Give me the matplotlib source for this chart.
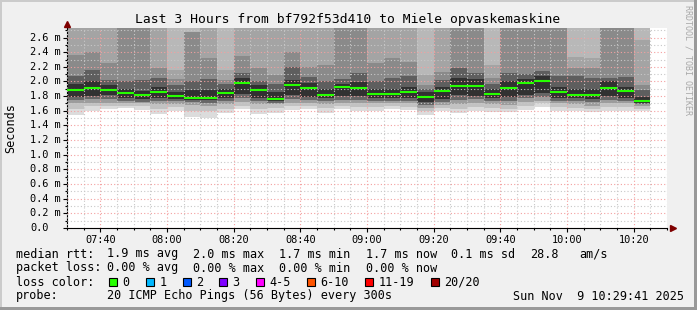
import matplotlib
matplotlib.use("Agg")
import matplotlib.pyplot as plt
from matplotlib.patches import Rectangle
import matplotlib.transforms as mtransforms

W, H = 697, 310
MONO = "DejaVu Sans Mono"

title = "Last 3 Hours from bf792f53d410 to Miele opvaskemaskine"

# time axis in minutes since midnight
t_start = 7 * 60 + 30
t_end = 10 * 60 + 30
step = 5

# median rtt per 5 minute step (ms), 07:30 .. 10:20
median = [1.888, 1.915, 1.884, 1.843, 1.812, 1.861, 1.802, 1.779, 1.779,
          1.843, 1.980, 1.888, 1.762, 1.952, 1.915, 1.816, 1.925, 1.915,
          1.830, 1.830, 1.861, 1.793, 1.870, 1.939, 1.939, 1.830, 1.915,
          1.984, 2.011, 1.861, 1.816, 1.816, 1.915, 1.875, 1.739]

# smoke, upper edges per bar (outer -> inner), 3.0 = off the top
smoke_hi = [
    (3, 3, 2.36, 2.08, 1.96), (3, 3, 2.40, 2.16, 2.00), (3, 3, 2.25, 2.02, 1.95),
    (3, 3, 3, 2.01, 1.90), (3, 3, 3, 2.02, 1.87), (3, 3, 2.18, 2.05, 1.93),
    (3, 2.16, 2.04, 1.95, 1.86), (3, 2.68, 2.68, 2.00, 1.88), (3, 3, 2.32, 2.03, 1.89),
    (3, 2.16, 2.02, 1.97, 1.90), (3, 3, 2.35, 2.11, 2.05), (3, 3, 2.18, 2.00, 1.95),
    (3, 3, 2.09, 1.97, 1.86), (3, 3, 2.40, 2.20, 2.02), (3, 3, 2.20, 2.06, 1.98),
    (3, 3, 2.22, 2.00, 1.90), (3, 3, 3, 2.04, 1.97), (3, 3, 3, 2.12, 1.99),
    (3, 3, 2.25, 2.00, 1.90), (3, 3, 2.32, 2.05, 1.90), (3, 3, 2.26, 2.07, 1.93),
    (3, 2.09, 1.95, 1.90, 1.86), (3, 3, 2.13, 2.02, 1.93), (3, 3, 3, 2.18, 2.05),
    (3, 3, 3, 2.12, 2.03), (3, 2.23, 2.05, 1.97, 1.90), (3, 3, 3, 2.12, 2.00),
    (3, 3, 3, 2.10, 2.04), (3, 3, 3, 2.14, 2.07), (3, 3, 3, 2.08, 1.93),
    (3, 2.34, 2.18, 2.07, 1.90), (3, 2.32, 2.18, 2.05, 1.90), (3, 3, 3, 2.05, 2.00),
    (3, 3, 3, 2.06, 1.93), (3, 2.56, 1.95, 1.88, 1.79),
]
# smoke, lower edges per bar (outer -> inner)
smoke_lo = [
    (1.54, 1.62, 1.70, 1.75, 1.79), (1.60, 1.66, 1.71, 1.76, 1.80), (1.62, 1.66, 1.71, 1.76, 1.81),
    (1.64, 1.67, 1.70, 1.73, 1.77), (1.61, 1.66, 1.70, 1.72, 1.76), (1.56, 1.62, 1.69, 1.73, 1.77),
    (1.60, 1.65, 1.69, 1.73, 1.76), (1.52, 1.60, 1.68, 1.72, 1.75), (1.50, 1.60, 1.67, 1.71, 1.75),
    (1.57, 1.63, 1.69, 1.73, 1.78), (1.62, 1.67, 1.72, 1.78, 1.83), (1.55, 1.62, 1.69, 1.74, 1.78),
    (1.57, 1.64, 1.69, 1.71, 1.73), (1.61, 1.67, 1.71, 1.76, 1.81), (1.63, 1.66, 1.71, 1.75, 1.79),
    (1.57, 1.64, 1.69, 1.73, 1.77), (1.62, 1.67, 1.71, 1.75, 1.80), (1.60, 1.65, 1.70, 1.75, 1.80),
    (1.60, 1.65, 1.70, 1.74, 1.77), (1.63, 1.66, 1.70, 1.74, 1.77), (1.61, 1.65, 1.70, 1.74, 1.78),
    (1.54, 1.60, 1.64, 1.68, 1.72), (1.60, 1.64, 1.68, 1.72, 1.76), (1.57, 1.63, 1.69, 1.75, 1.81),
    (1.60, 1.65, 1.70, 1.76, 1.80), (1.59, 1.64, 1.69, 1.73, 1.77), (1.58, 1.62, 1.68, 1.74, 1.79),
    (1.61, 1.66, 1.72, 1.77, 1.81), (1.645, 1.70, 1.74, 1.79, 1.84), (1.60, 1.65, 1.70, 1.74, 1.78),
    (1.60, 1.64, 1.69, 1.73, 1.77), (1.58, 1.62, 1.67, 1.72, 1.76), (1.60, 1.65, 1.70, 1.75, 1.80),
    (1.60, 1.65, 1.70, 1.74, 1.77), (1.60, 1.62, 1.66, 1.69, 1.71),
]
up_colors = ["#b8b8b8", "#a4a4a4", "#8a8a8a", "#5e5e5e", "#313131"]
lo_colors = ["#dcdcdc", "#c2c2c2", "#9c9c9c", "#666666", "#313131"]

x_ticks = list(range(t_start + 10, t_end, 20))
x_labels = ["%02d:%02d" % (t // 60, t % 60) for t in x_ticks]
y_ticks = [i / 10 for i in range(0, 27, 2)]
y_labels = ["0.0"] + ["%.1f m" % v for v in y_ticks[1:]]

loss_labels = ["0", "1", "2", "3", "4-5", "6-10", "11-19", "20/20"]
loss_colors = ["#26ff00", "#00b8ff", "#0059ff", "#7e00ff", "#ff00ff",
               "#ff5500", "#ff0000", "#a10000"]
loss_box_x = [109, 146, 183, 219, 256, 307, 365, 431]

rtt_parts = [(16, "median rtt:"), (107, "1.9 ms avg"), (193, "2.0 ms max"),
             (279, "1.7 ms min"), (366, "1.7 ms now"), (451, "0.1 ms sd"),
             (530, "28.8"), (579, "am/s")]
loss_parts = [(16, "packet loss:"), (107, "0.00 % avg"), (193, "0.00 % max"),
              (279, "0.00 % min"), (366, "0.00 % now")]
probe_text = "20 ICMP Echo Pings (56 Bytes) every 300s"
date_text = "Sun Nov  9 10:29:41 2025"

fig = plt.figure(figsize=(W / 100, H / 100), dpi=100, facecolor="#f0f0f0")
ax = fig.add_axes([67 / W, (H - 228) / H, 600 / W, 200 / H])
ax.set_facecolor("white")
ax.set_xlim(t_start, t_end)
ax.set_ylim(0, 2.73)

x_left = [t_start + i * step for i in range(len(median))]
for lvl in range(5):
    tops = [row[lvl] for row in smoke_hi]
    bots = [row[lvl] for row in smoke_lo]
    ax.bar(x_left, [t - m for t, m in zip(tops, median)], width=step, bottom=median,
           align="edge", color=up_colors[lvl], linewidth=0, antialiased=False, zorder=1)
    ax.bar(x_left, [m - b for m, b in zip(median, bots)], width=step, bottom=bots,
           align="edge", color=lo_colors[lvl], linewidth=0, antialiased=False, zorder=1)
ax.hlines(median, x_left, [x + step for x in x_left], colors=loss_colors[0],
          linewidth=1.5, zorder=4)

# grid
ax.set_xticks(x_ticks)
ax.set_xticks(range(t_start, t_end + 1, 5), minor=True)
ax.set_yticks(y_ticks)
ax.set_yticks([i / 10 for i in range(0, 28)], minor=True)
ax.set_axisbelow(False)
ax.grid(which="major", color="#f4a0a0", linestyle=(0, (1, 2)), linewidth=0.8, zorder=3)
ax.grid(which="minor", color="#c8c8c8", linestyle=(0, (1, 2)), linewidth=0.8, zorder=3)

ax.set_xticklabels(x_labels, fontfamily=MONO, fontsize=7.4)
ax.set_yticklabels([])
ax.tick_params(which="major", length=3, width=0.8, direction="out", pad=2)
ax.tick_params(which="minor", length=1.5, width=0.8, direction="out")
for sp in ["top", "right"]:
    ax.spines[sp].set_visible(False)
for sp in ["left", "bottom"]:
    ax.spines[sp].set_linewidth(0.8)
    ax.spines[sp].set_color("black")

ylab_tr = mtransforms.blended_transform_factory(fig.transFigure, ax.transData)
for v, s in zip(y_ticks, y_labels):
    ax.text(30 / W, v, s, transform=ylab_tr, ha="left", va="center",
            fontfamily=MONO, fontsize=7.4)

# arrows on the axes
ax.plot([0], [1.02], marker="^", color="#7f0000", markersize=4, clip_on=False,
        transform=ax.transAxes, zorder=5)
ax.plot([1.01], [0], marker=">", color="#7f0000", markersize=4, clip_on=False,
        transform=ax.transAxes, zorder=5)

fig.text(347.5 / W, 1 - 19.5 / H, title, ha="center", va="center",
         fontfamily=MONO, fontsize=9.4)
fig.text(11 / W, 1 - 128 / H, "Seconds", rotation=90, ha="center", va="center",
         fontfamily=MONO, fontsize=8.5)
fig.text(688 / W, 1 - 5 / H, "RRDTOOL / TOBI OETIKER", rotation=270, ha="center",
         va="top", fontfamily=MONO, fontsize=6, color="#a8a8a8")

for x, s in rtt_parts:
    fig.text(x / W, 1 - 254 / H, s, ha="left", va="center", fontfamily=MONO, fontsize=8.5)
for x, s in loss_parts:
    fig.text(x / W, 1 - 268 / H, s, ha="left", va="center", fontfamily=MONO, fontsize=8.5)
fig.text(16 / W, 1 - 282 / H, "loss color:", ha="left", va="center",
         fontfamily=MONO, fontsize=8.5)
for bx, lab, col in zip(loss_box_x, loss_labels, loss_colors):
    fig.add_artist(Rectangle((bx / W, 1 - 286 / H), 8 / W, 8 / H, transform=fig.transFigure,
                             facecolor=col, edgecolor="black", linewidth=0.8))
    fig.text((bx + 13.5) / W, 1 - 282 / H, lab, ha="left", va="center",
             fontfamily=MONO, fontsize=8.5)
fig.text(16 / W, 1 - 296 / H, "probe:", ha="left", va="center", fontfamily=MONO, fontsize=8.5)
fig.text(107 / W, 1 - 296 / H, probe_text, ha="left", va="center", fontfamily=MONO, fontsize=8.5)
fig.text(513 / W, 1 - 296 / H, date_text, ha="left", va="center", fontfamily=MONO, fontsize=8.5)

# 3d frame around the image
fig.add_artist(Rectangle((0, 0), 2 / W, 1, transform=fig.transFigure, color="#cbcbcb", lw=0))
fig.add_artist(Rectangle((0, 1 - 2 / H), 1, 2 / H, transform=fig.transFigure, color="#cbcbcb", lw=0))
fig.add_artist(Rectangle((1 - 3 / W, 0), 3 / W, 1, transform=fig.transFigure, color="#999999", lw=0))
fig.add_artist(Rectangle((0, 0), 1, 3 / H, transform=fig.transFigure, color="#999999", lw=0))

fig.savefig("out.png", dpi=100, facecolor=fig.get_facecolor())
